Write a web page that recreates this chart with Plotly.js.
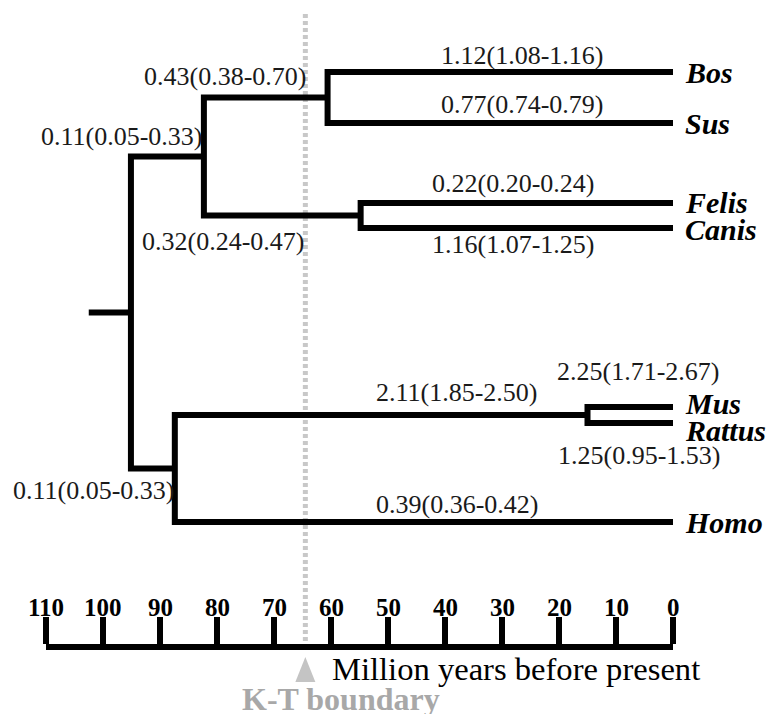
<!DOCTYPE html>
<html>
<head>
<meta charset="utf-8">
<script src="https://cdn.plot.ly/plotly-3.0.1.min.js"></script>
<style>html,body{margin:0;padding:0;background:#fff;}#chart{width:782px;height:714px;}</style>
</head>
<body>
<div id="chart"></div>
<script>
// ---------- DATA ----------
const taxa = ["Bos", "Sus", "Felis", "Canis", "Mus", "Rattus", "Homo"];
const tipAges = [0, 0, 0, 0, 0, 0, 0];
const tipRates = ["1.12(1.08-1.16)", "0.77(0.74-0.79)", "0.22(0.20-0.24)", "1.16(1.07-1.25)",
                  "2.25(1.71-2.67)", "1.25(0.95-1.53)", "0.39(0.36-0.42)"];
const nodeNames = ["Root", "Laurasiatheria", "Cetartiodactyla", "Carnivora", "Euarchontoglires", "Murinae"];
const nodeAges = [95.1, 82.3, 60.6, 54.8, 87.4, 15.0];
const nodeChildren = [["Laurasiatheria", "Euarchontoglires"], ["Cetartiodactyla", "Carnivora"],
                      ["Bos", "Sus"], ["Felis", "Canis"], ["Murinae", "Homo"], ["Mus", "Rattus"]];
const nodeRates = [null, "0.11(0.05-0.33)", "0.43(0.38-0.70)", "0.32(0.24-0.47)", "0.11(0.05-0.33)", "2.11(1.85-2.50)"];
const rootStubAge = 102.5;
const ktBoundaryAge = 64.5;
const tickYears = [110, 100, 90, 80, 70, 60, 50, 40, 30, 20, 10, 0];
const axisTitle = "Million years before present";
const ktLabel = "K-T boundary";

// ---------- LAYOUT (positions / styles) ----------
const W = 782, H = 714;
const pxPerMy = 5.7, zeroPx = 673;          // time scale in pixels
const tipRow = {Bos: 72, Sus: 123, Felis: 203, Canis: 228, Mus: 407, Rattus: 423, Homo: 522};
const tipLabelShift = {Bos: 0, Sus: 0, Felis: -1, Canis: 1, Mus: -4, Rattus: 7, Homo: 0};
const rateLabelPos = {   // [age at label centre, row]
  Bos: [26.5, 55], Sus: [26.5, 104], Felis: [28.1, 183], Canis: [28.1, 244],
  Mus: [6.1, 371], Rattus: [6.0, 455], Homo: [37.9, 504],
  Laurasiatheria: [96.6, 136], Cetartiodactyla: [78.6, 76], Carnivora: [78.9, 241],
  Euarchontoglires: [101.6, 490], Murinae: [37.9, 392]
};
const serif = "Liberation Serif, Times New Roman, serif";
const lineW = 6;
const axisRow = 647, tickLabelRow = 607;
const triTop = 657, triBase = 682, triHalfPx = 10;

// ---------- build tree ----------
const ageOf = {}, rowOf = {};
taxa.forEach((t, i) => { ageOf[t] = tipAges[i]; rowOf[t] = tipRow[t]; });
nodeNames.forEach((n, i) => { ageOf[n] = nodeAges[i]; });
function row(name) {
  if (rowOf[name] !== undefined) return rowOf[name];
  const i = nodeNames.indexOf(name);
  const r = (row(nodeChildren[i][0]) + row(nodeChildren[i][1])) / 2;
  rowOf[name] = r;
  return r;
}
const tx = [], ty = [];
nodeNames.forEach((n, i) => {
  const [a, b] = nodeChildren[i];
  tx.push(ageOf[a], ageOf[n], ageOf[n], ageOf[b], null);
  ty.push(row(a), row(a), row(b), row(b), null);
});
tx.push(rootStubAge, ageOf["Root"]);
ty.push(row("Root"), row("Root"));

const xMin = (zeroPx - W) / pxPerMy, xMax = zeroPx / pxPerMy;
const triHalf = triHalfPx / pxPerMy;

const traces = [
  { // anchor trace for the scale axis (drawn first, underneath)
    type: "scatter", mode: "markers", x: [0, 110], y: [-100, -100], marker: {opacity: 0},
    hoverinfo: "skip", xaxis: "x2", yaxis: "y"
  },
  { // K-T boundary dotted line
    type: "scatter", mode: "lines", x: [ktBoundaryAge, ktBoundaryAge], y: [14, 641],
    line: {color: "#c8c8c8", width: 5, dash: "4px,3px"}, hoverinfo: "skip", xaxis: "x", yaxis: "y"
  },
  {
    type: "scatter", mode: "lines", x: tx, y: ty,
    line: {color: "#000", width: lineW}, hoverinfo: "skip", xaxis: "x", yaxis: "y"
  },
  { // K-T marker triangle
    type: "scatter", mode: "lines", fill: "toself", fillcolor: "#c4c4c4",
    x: [ktBoundaryAge, ktBoundaryAge - triHalf, ktBoundaryAge + triHalf, ktBoundaryAge],
    y: [triTop, triBase, triBase, triTop],
    line: {color: "#c4c4c4", width: 0}, hoverinfo: "skip", xaxis: "x", yaxis: "y"
  }
];

const annotations = [];
taxa.forEach((t, i) => {
  annotations.push({x: tipAges[i], y: tipRow[t] + tipLabelShift[t], xref: "x", yref: "y",
    text: "<b><i>" + t + "</i></b>",
    showarrow: false, xanchor: "left", yanchor: "middle", xshift: 10,
    font: {family: serif, size: 30, color: "#000"}});
  const p = rateLabelPos[t];
  annotations.push({x: p[0], y: p[1], xref: "x", yref: "y", text: tipRates[i], showarrow: false,
    xanchor: "center", yanchor: "middle", font: {family: serif, size: 26, color: "#1a1a1a"}});
});
nodeNames.forEach((n, i) => {
  if (!nodeRates[i]) return;
  const p = rateLabelPos[n];
  annotations.push({x: p[0], y: p[1], xref: "x", yref: "y", text: nodeRates[i], showarrow: false,
    xanchor: "center", yanchor: "middle", font: {family: serif, size: 26, color: "#1a1a1a"}});
});
tickYears.forEach(v => {
  annotations.push({x: v, y: tickLabelRow, xref: "x2", yref: "y", text: "<b>" + v + "</b>", showarrow: false,
    xanchor: "center", yanchor: "middle", font: {family: serif, size: 25, color: "#000"}});
});
annotations.push({x: (zeroPx - 330) / pxPerMy, y: 669, xref: "x", yref: "y", text: axisTitle, showarrow: false,
  xanchor: "left", yanchor: "middle", font: {family: serif, size: 32.6, color: "#000"}});
annotations.push({x: (zeroPx - 341) / pxPerMy, y: 699, xref: "x", yref: "y", text: "<b>" + ktLabel + "</b>",
  showarrow: false, xanchor: "center", yanchor: "middle", font: {family: serif, size: 32, color: "#a8a8a8"}});

const layout = {
  width: W, height: H, margin: {l: 0, r: 0, t: 0, b: 0, pad: 0},
  paper_bgcolor: "#fff", plot_bgcolor: "rgba(0,0,0,0)", showlegend: false,
  xaxis: {domain: [0, 1], range: [xMax, xMin], visible: false, fixedrange: true},
  yaxis: {domain: [0, 1], range: [H, 0], visible: false, fixedrange: true},
  xaxis2: {
    domain: [(zeroPx - 110 * pxPerMy) / W, zeroPx / W], range: [110, 0],
    anchor: "free", position: (H - axisRow) / H, side: "top",
    showline: true, linewidth: lineW, linecolor: "#000",
    ticks: "outside", ticklen: 27, tickwidth: lineW, tickcolor: "#000",
    tickmode: "array", tickvals: tickYears, showticklabels: false,
    showgrid: false, zeroline: false, fixedrange: true
  },
  annotations: annotations
};

Plotly.newPlot("chart", traces, layout, {staticPlot: true, displayModeBar: false});
</script>
</body>
</html>
